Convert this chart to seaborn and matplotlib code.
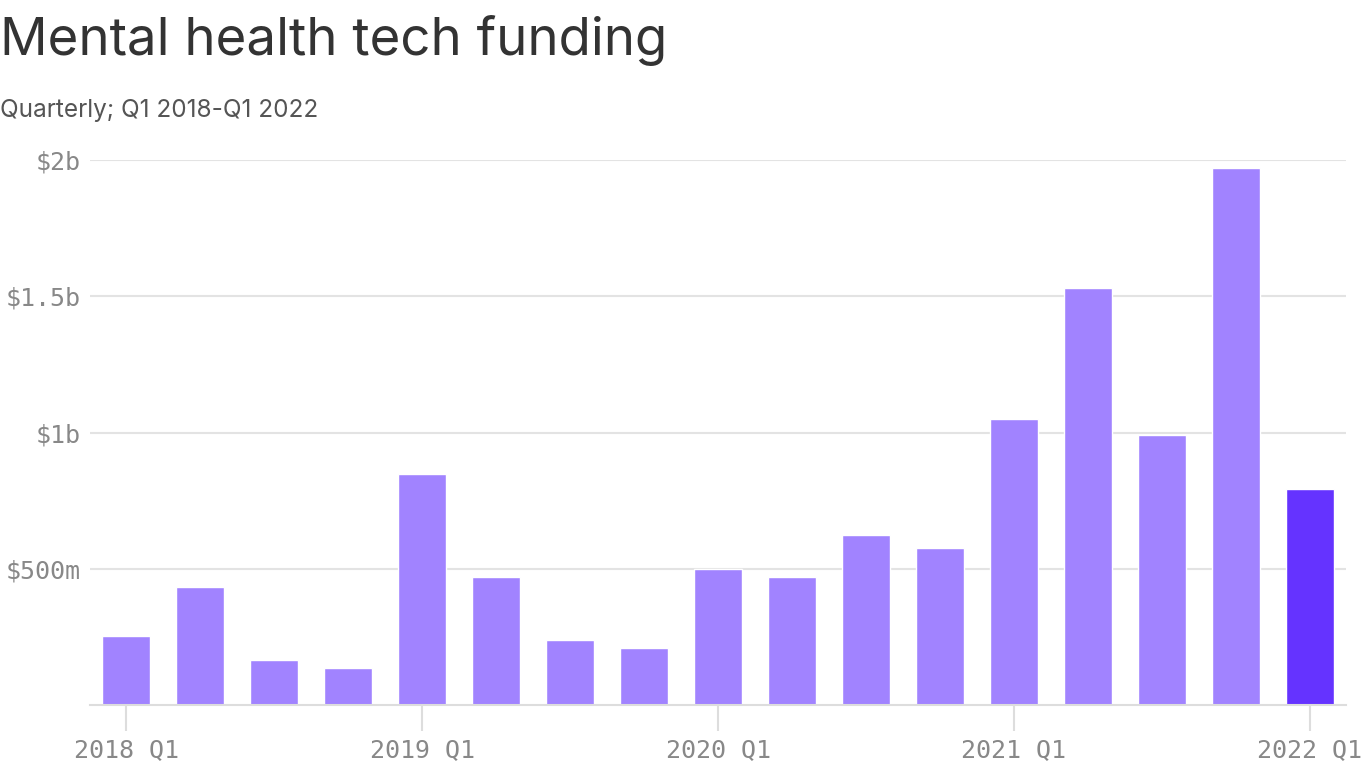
import matplotlib
matplotlib.use("Agg")
import matplotlib.pyplot as plt
import seaborn as sns
import pandas as pd

quarters = ["2018 Q1", "2018 Q2", "2018 Q3", "2018 Q4",
            "2019 Q1", "2019 Q2", "2019 Q3", "2019 Q4",
            "2020 Q1", "2020 Q2", "2020 Q3", "2020 Q4",
            "2021 Q1", "2021 Q2", "2021 Q3", "2021 Q4",
            "2022 Q1"]
funding_m = [253, 434, 164, 135, 848, 469, 237, 208, 500, 469, 623, 575,
             1049, 1530, 990, 1970, 793]
tick_labels = ["2018 Q1", "2019 Q1", "2020 Q1", "2021 Q1", "2022 Q1"]
y_ticks = [500, 1000, 1500, 2000]
y_tick_labels = ["$500m", "$1b", "$1.5b", "$2b"]

light = "#A183FF"
dark = "#6533FF"
colors = [light] * (len(quarters) - 1) + [dark]

df = pd.DataFrame({"quarter": quarters, "funding": funding_m})

sns.set_style("white")
plt.rcParams["font.family"] = ["DejaVu Sans Mono"]

fig = plt.figure(figsize=(13.66, 7.68), dpi=100)
ax = fig.add_axes([90 / 1366, 1 - 705 / 768, (1346 - 90) / 1366, (705 - 160) / 768])

sns.barplot(data=df, x="quarter", y="funding", hue="quarter", palette=colors,
            width=0.65, legend=False, ax=ax, saturation=1)

ax.set_xlim(-0.49, 16.49)
ax.set_ylim(0, 2000)
ax.set_yticks(y_ticks)
ax.set_yticklabels(y_tick_labels)
ax.set_xticks([quarters.index(t) for t in tick_labels])
ax.set_xticklabels(tick_labels)
ax.set_xlabel("")
ax.set_ylabel("")

for s in ["top", "right", "left"]:
    ax.spines[s].set_visible(False)
ax.spines["bottom"].set_color("#dddddd")
ax.spines["bottom"].set_linewidth(1.5)

ax.yaxis.grid(True, color="#e3e3e3", linewidth=1.5)
ax.set_axisbelow(True)
ax.tick_params(axis="y", left=False, length=0, pad=7, labelsize=18, labelcolor="#888888")
ax.tick_params(axis="x", bottom=True, length=19, width=1.5, color="#dddddd", pad=5,
               labelsize=18, labelcolor="#888888", direction="out")
for lbl in ax.get_yticklabels() + ax.get_xticklabels():
    lbl.set_clip_on(False)

fig.text(0.0, 1 - 55 / 768, "Mental health tech funding", fontsize=38,
         color="#333333", family=["Inter", "DejaVu Sans"], va="baseline", ha="left")
fig.text(0.0, 1 - 117 / 768, "Quarterly; Q1 2018-Q1 2022", fontsize=17.5,
         color="#555555", family=["Inter", "DejaVu Sans"], va="baseline", ha="left")

fig.savefig("out.png", dpi=100)
